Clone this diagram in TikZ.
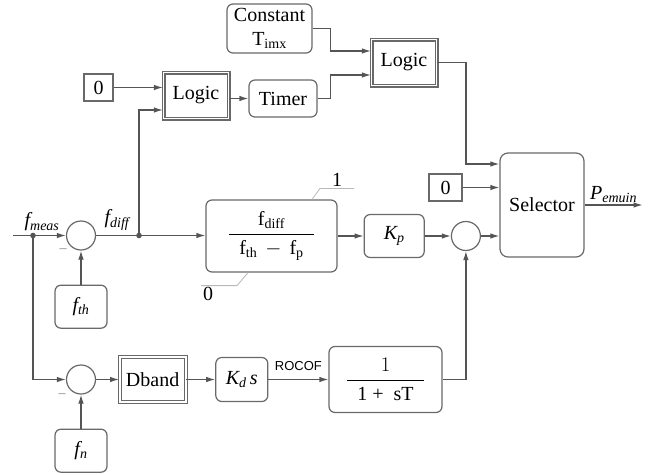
\documentclass[tikz,border=0pt]{standalone}
\usepackage{amsmath}
\usepackage{fontspec}
\setmainfont{Liberation Serif}
\setsansfont{Liberation Sans}
\definecolor{linegray}{RGB}{85,85,85}
\definecolor{boxgray}{RGB}{105,105,105}
\usetikzlibrary{arrows.meta}
\usetikzlibrary{positioning}
\tikzset{>={Latex[length=9pt,width=5.5pt]}}
\tikzset{
  blk/.style={draw=boxgray, line width=1.2pt, rounded corners=6pt, inner sep=0pt, align=center},
  dblk/.style={draw=boxgray, line width=1.1pt, double, double distance=1.8pt, inner sep=0pt, align=center},
  numbox/.style={draw=boxgray, line width=1.2pt, inner sep=0pt},
  sumnode/.style={circle, draw=boxgray, line width=1.2pt, inner sep=0pt, minimum size=29pt},
  wire/.style={draw=linegray, line width=1.2pt, ->},
  limit/.style={draw=gray!55, line width=0.8pt},
}

\begin{document}
\begin{tikzpicture}[x=1pt, y=-1pt, font=\fontsize{20}{24}\selectfont]
  \useasboundingbox (0,0) rectangle (658,474);

  % top part
  \node[blk, minimum width=85pt, minimum height=49pt] (const) at (269.5,28.5) {Constant\\T\textsubscript{imx}};
  \node[numbox, minimum width=29pt, minimum height=27pt] (zeroa) at (98.5,87.5) {0};
  \node[dblk, minimum width=65pt, minimum height=46pt] (logica) at (196,95.5) {Logic};
  \node[blk, minimum width=68pt, minimum height=37pt] (timer) at (283,98.5) {Timer};
  \node[dblk, minimum width=65pt, minimum height=46pt] (logicb) at (404,62.5) {Logic};

  % main row
  \coordinate (fin) at (13,235.5);
  \coordinate (ja) at (33,235.5);
  \coordinate (jb) at (139,235.5);
  \node[sumnode] (suma) at (81,235.5) {};
  \node[blk, minimum width=131pt, minimum height=72pt] (fdiff) at (271.5,236)
    {$\dfrac{\text{f\textsubscript{diff}}}{\hspace{10pt}\text{f\textsubscript{th}}\,-\,\text{f\textsubscript{p}}\hspace{10pt}}$};
  \node[blk, minimum width=60pt, minimum height=43pt, right=26pt of fdiff] (kp) {\textit{K\textsubscript{p}}};
  \node[sumnode, right=26pt of kp] (sumb) {};
  \node[blk, rounded corners=8pt, minimum width=84pt, minimum height=104pt] (sel) at (542,205) {Selector};
  \node[numbox, minimum width=33pt, minimum height=27pt] (zerob) at (445.5,187.5) {0};
  \node[blk, minimum width=52pt, minimum height=43pt, below=34pt of suma] (fth) {\textit{f\textsubscript{th}}};

  % lower row
  \node[sumnode] (sumc) at (81,379.5) {};
  \node[blk, minimum width=52pt, minimum height=43pt, below=34pt of sumc] (fn) {\textit{f\textsubscript{n}}};
  \node[dblk, minimum width=66pt, minimum height=45pt, right=23pt of sumc] (dband) {Dband};
  \node[blk, minimum width=52pt, minimum height=44pt, right=29pt of dband] (kds) {\textit{K\textsubscript{d}\,s}};
  \node[blk, minimum width=113pt, minimum height=66pt, right=60pt of kds] (lag)
    {$\dfrac{1}{\hspace{10pt}\text{1 +\ \ sT}\hspace{10pt}}$};

  % labels
  \node (lmeas) at (42,222) {\textit{f\textsubscript{meas}}};
  \node (ldiff) at (117,220) {\textit{f\textsubscript{diff}}};
  \node[text=gray, font=\fontsize{14}{14}\selectfont] (minusa) at (63,251) {\textendash};
  \node[text=gray, font=\fontsize{14}{14}\selectfont] (minusc) at (62,396) {\textendash};

  % limits
  \draw[limit] ([xshift=40.5pt]fdiff.north) -- ++(8,-11) -- ++(34,0) node[midway, above, inner sep=2pt] (lmax) {1};
  \draw[limit] ([xshift=-23.5pt]fdiff.south) -- ++(-11,13) -- ++(-36,0) node[pos=0.8, below, inner sep=1pt] (lmin) {0};

  % connections
  \draw[wire] (fin) -- (suma);
  \fill[linegray] (ja) circle (2.8pt);
  \draw[wire] (suma.east) -- (suma.east -| fdiff.west);
  \fill[linegray] (jb) circle (2.8pt);
  \draw[wire] (jb) |- ([yshift=-14.5pt]logica.west);
  \draw[wire] (zeroa) -- (zeroa -| logica.west);
  \draw[wire] (logica.east |- timer) -- (timer.west);
  \draw[wire] (const.east) -- ++(18,0) |- ([yshift=11.5pt]logicb.west);
  \draw[wire] (timer.east) -- ++(13,0) |- ([yshift=-12.5pt]logicb.west);
  \draw[wire] (logicb.east) -- ++(29,0) |- ([yshift=41pt]sel.west);
  \draw[wire] (zerob) -- (zerob -| sel.west);
  \draw[wire] (sumb) -- (sumb -| sel.west);
  \draw[wire] (sel.east) -- ++(58,0) node[midway, above, inner sep=2pt] (lpout) {\textit{P\textsubscript{emuin}}};
  \draw[wire] (fdiff.east) -- (fdiff.east -| kp.west);
  \draw[wire] (kp) -- (sumb);
  \draw[wire] (fth) -- (suma);
  \draw[wire] (ja) |- (sumc);
  \draw[wire] (fn) -- (sumc);
  \draw[wire] (sumc) -- (dband);
  \draw[wire] (dband) -- (kds);
  \draw[wire] (kds) -- (lag) node[midway, above=5pt, font=\sffamily\fontsize{13}{15}\selectfont] (lrocof) {ROCOF};
  \draw[wire] (lag.east) -| (sumb.south);

\end{tikzpicture}
\end{document}
